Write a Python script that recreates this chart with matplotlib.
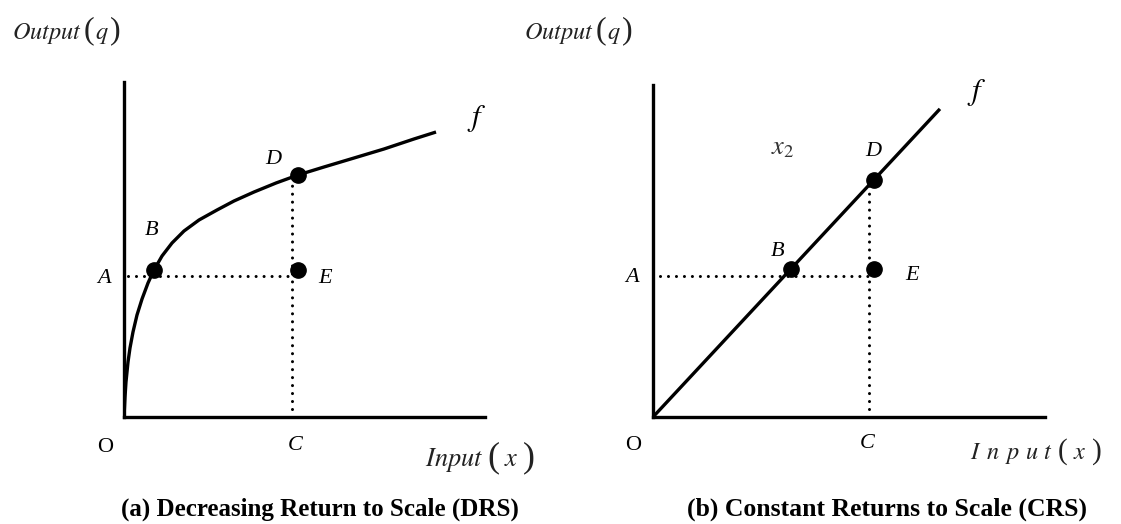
import matplotlib
matplotlib.use('Agg')
import matplotlib.pyplot as plt
from matplotlib.offsetbox import TextArea, HPacker, AnnotationBbox

### Data (input x, output q) in axis units

# (a) decreasing returns: points
drs_x = [0.0, 0.028, 0.055, 0.111, 0.166, 0.249, 0.360, 0.499, 0.665, 0.831, 1.053, 1.330,
         1.662, 2.078, 2.576, 3.047, 3.601, 4.211, 4.820, 5.540, 6.371, 7.202, 8.033, 8.643]
drs_q = [0.0, 0.597, 1.045, 1.642, 2.060, 2.537, 3.045, 3.522, 4.000, 4.388, 4.806, 5.194,
         5.552, 5.881, 6.179, 6.448, 6.716, 6.985, 7.224, 7.463, 7.731, 8.000, 8.299, 8.507]
drs_B = (0.83, 4.40)
drs_D = (4.82, 7.22)
drs_E = (4.82, 4.40)
drs_qA = 4.21
drs_xC = 4.65

# (b) constant returns: straight ray from the origin
crs_x = [0.0, 7.32]
crs_q = [0.0, 9.28]
crs_B = (3.52, 4.46)
crs_D = (5.64, 7.15)
crs_E = (5.64, 4.46)
crs_qA = 4.25
crs_xC = 5.51
crs_x2 = (3.32, 8.13)

plt.rcParams['mathtext.fontset'] = 'stix'
SERIF = ['Liberation Serif', 'DejaVu Serif']

fig = plt.figure(figsize=(11.21, 5.24), dpi=100)
W, H = 1121.0, 524.0


def make_axes(x0, y0, w, h):
    ax = fig.add_axes([x0 / W, 1 - (y0 + h) / H, w / W, h / H])
    ax.set_xlim(0, 10)
    ax.set_ylim(0, 10)
    for s in ('top', 'right'):
        ax.spines[s].set_visible(False)
    for s in ('left', 'bottom'):
        ax.spines[s].set_linewidth(2.4)
    ax.set_xticks([])
    ax.set_yticks([])
    ax.patch.set_visible(False)
    return ax


def label(ax, text, xy, off, style='italic', size=16):
    ax.annotate(text, xy=xy, xytext=off, textcoords='offset pixels',
                ha='center', va='center', fontsize=size, family=SERIF,
                style=style, annotation_clip=False)


def axis_name(word, var, x, y, size, psize, gap, letter_gap=None):
    # italic word, upright (taller) parentheses around an italic variable
    tp = dict(fontsize=size, color='#222222')
    pp = dict(fontsize=psize, color='#222222', family=SERIF)
    if letter_gap is None:
        head = TextArea('$%s$' % word, textprops=tp)
    else:
        head = HPacker(children=[TextArea('$%s$' % c, textprops=tp) for c in word],
                       align='baseline', pad=0, sep=letter_gap)
    box = HPacker(children=[head, TextArea('(', textprops=pp),
                            TextArea('$%s$' % var, textprops=tp),
                            TextArea(')', textprops=pp)],
                  align='baseline', pad=0, sep=gap)
    ab = AnnotationBbox(box, (x, H - y), xycoords='figure pixels', frameon=False,
                        box_alignment=(0, 0.5), pad=0)
    fig.add_artist(ab)


dot_kw = dict(marker='o', ms=11, color='black', ls='none', zorder=4, clip_on=False)
guide_kw = dict(color='black', lw=2.2, ls=(0, (0.01, 2.6)), dash_capstyle='round')

### Panel (a)

ax1 = make_axes(124, 82, 361, 335)
ax1.plot(drs_x, drs_q, color='black', lw=2.4, solid_joinstyle='round', solid_capstyle='butt')
ax1.plot([0.12, drs_xC], [drs_qA, drs_qA], **guide_kw)
ax1.plot([drs_xC, drs_xC], [0, drs_D[1]], **guide_kw)
ax1.plot(*zip(drs_B, drs_D, drs_E), **dot_kw)

label(ax1, 'A', (0, drs_qA), (-20, -3))
label(ax1, 'B', drs_B, (-2, 39))
label(ax1, 'D', drs_D, (-25, 16))
label(ax1, 'E', drs_E, (27, -9))
label(ax1, 'C', (drs_xC, 0), (3, -29))
label(ax1, 'O', (0, 0), (-19, -30), style='normal')
label(ax1, r'$f$', (drs_x[-1], drs_q[-1]), (41, 14), size=22)

### Panel (b)

ax2 = make_axes(653, 85, 392, 332)
ax2.plot(crs_x, crs_q, color='black', lw=2.4, solid_capstyle='butt')
ax2.plot([0.18, crs_xC], [crs_qA, crs_qA], **guide_kw)
ax2.plot([crs_xC, crs_xC], [0, crs_D[1]], **guide_kw)
ax2.plot(*zip(crs_B, crs_D, crs_E), **dot_kw)

label(ax2, 'A', (0, crs_qA), (-21, -2))
label(ax2, 'B', crs_B, (-13, 17))
label(ax2, 'D', crs_D, (-1, 28))
label(ax2, 'E', crs_E, (38, -7))
label(ax2, 'C', (crs_xC, 0), (-2, -27))
label(ax2, 'O', (0, 0), (-20, -28), style='normal')
label(ax2, r'$f$', (crs_x[-1], crs_q[-1]), (37, 16), size=22)
ax2.text(*crs_x2, r'$x_2$', fontsize=19, color='#333333', ha='center', va='center')

### Axis names and captions

axis_name('Output', 'q', 12, 31, 17.5, 23, 1)
axis_name('Output', 'q', 524, 31, 17.5, 23, 1)
axis_name('Input', 'x', 425, 458, 19, 26, 3)
axis_name('Input', 'x', 970, 452, 17.5, 21, 4, letter_gap=3.5)

fig.text(320 / W, 1 - 509 / H, '(a) Decreasing Return to Scale (DRS)', fontsize=18,
         weight='bold', family=SERIF, ha='center', va='center')
fig.text(887 / W, 1 - 509 / H, '(b) Constant Returns to Scale (CRS)', fontsize=18.5,
         weight='bold', family=SERIF, ha='center', va='center')

fig.savefig('out.png', dpi=100)
plt.close(fig)
